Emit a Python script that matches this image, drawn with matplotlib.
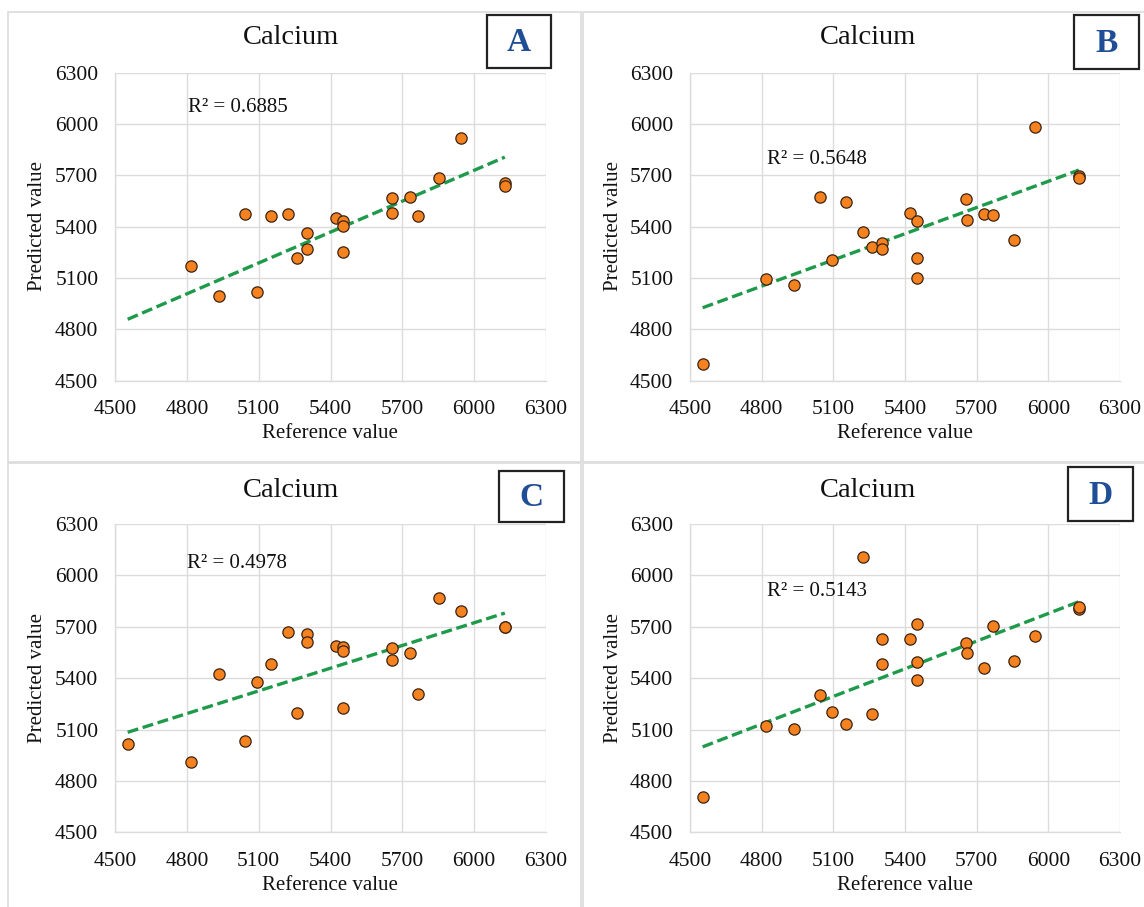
import matplotlib
matplotlib.use("Agg")
import matplotlib.pyplot as plt
from matplotlib.patches import Rectangle
import numpy as np

plt.rcParams['font.family'] = ['Liberation Serif', 'DejaVu Serif']

# ---------------- data ----------------
reference = [4553, 4817, 4935, 5044, 5094, 5151, 5223, 5260, 5303, 5303, 5423,
             5451, 5451, 5451, 5657, 5658, 5731, 5767, 5855, 5944, 6128, 6128]

pred_A = [4460, 5170, 4995, 5472, 5018, 5460, 5476, 5219, 5365, 5269, 5451,
          5431, 5406, 5252, 5567, 5478, 5575, 5464, 5686, 5918, 5655, 5638]
pred_B = [4599, 5094, 5061, 5575, 5207, 5542, 5371, 5279, 5306, 5271, 5482,
          5431, 5219, 5102, 5562, 5441, 5472, 5468, 5320, 5984, 5698, 5682]
pred_C = [5014, 4910, 5424, 5035, 5379, 5484, 5667, 5195, 5658, 5609, 5586,
          5582, 5558, 5224, 5578, 5504, 5547, 5307, 5868, 5792, 5696, 5696]
pred_D = [4704, 5121, 5105, 5300, 5202, 5132, 6105, 5193, 5630, 5481, 5629,
          5718, 5494, 5389, 5607, 5545, 5461, 5702, 5502, 5648, 5805, 5815]

panel_letters = ["A", "B", "C", "D"]
r2_labels = ["R² = 0.6885", "R² = 0.5648", "R² = 0.4978", "R² = 0.5143"]
title = "Calcium"
xlabel = "Reference value"
ylabel = "Predicted value"
ticks = [4500, 4800, 5100, 5400, 5700, 6000, 6300]

W, H = 1144, 907
fig = plt.figure(figsize=(W / 100, H / 100), dpi=100)


def fx(px):
    return px / W


def fy(py):
    return 1 - py / H


# layout in pixels: (plot left, plot right, plot top, plot bottom)
layouts = [
    dict(ax=(115, 546, 72.7, 380.7), border=(8, 581, 12, 462), title=(291, 38),
         ylab=(38, 226), xlab=(330, 434), r2=(188, 108), box=(487, 551, 15, 68)),
    dict(ax=(690, 1120, 72.7, 380.7), border=(583, 1160, 12, 462), title=(868, 38),
         ylab=(614, 226), xlab=(905, 434), r2=(767, 160), box=(1074, 1139, 15, 69)),
    dict(ax=(115, 546, 524, 832.3), border=(8, 581, 463, 920), title=(291, 490),
         ylab=(38, 678), xlab=(330, 886), r2=(187, 563), box=(499, 564, 471, 522)),
    dict(ax=(690, 1120, 524, 832.3), border=(583, 1160, 463, 920), title=(868, 490),
         ylab=(614, 678), xlab=(905, 886), r2=(767, 592), box=(1068, 1133, 467, 521)),
]

preds = [pred_A, pred_B, pred_C, pred_D]
grid_col = '#dcdcdc'

for lay, pred, letter, r2 in zip(layouts, preds, panel_letters, r2_labels):
    bl, br, bt, bb = lay['border']
    fig.patches.append(Rectangle((fx(bl), fy(bb)), fx(br - bl), (bb - bt) / H,
                                 transform=fig.transFigure, fill=False,
                                 edgecolor=grid_col, linewidth=1.2, zorder=0))
    l, r, t, b = lay['ax']
    ax = fig.add_axes([fx(l), fy(b), fx(r - l), (b - t) / H])
    ax.set_xlim(4500, 6300)
    ax.set_ylim(4500, 6300)
    ax.set_xticks(ticks)
    ax.set_yticks(ticks)
    ax.grid(True, color=grid_col, linewidth=1.0)
    ax.set_axisbelow(True)
    for s in ax.spines.values():
        s.set_color(grid_col)
        s.set_linewidth(1.0)
    ax.spines['top'].set_visible(False)
    ax.spines['right'].set_visible(False)
    ax.tick_params(axis='both', length=0, labelsize=15.5, colors='#111111')
    ax.tick_params(axis='x', pad=14)
    ax.tick_params(axis='y', pad=12)

    x = np.array(reference, dtype=float)
    y = np.array(pred, dtype=float)
    k, c = np.polyfit(x, y, 1)
    xs = np.array([x.min(), x.max()])
    ax.plot(xs, k * xs + c, color='#1e9a4a', linewidth=2.4, linestyle=(0, (3.3, 1.4)),
            zorder=2)
    ax.scatter(x, y, s=66, color='#F5821F', edgecolor='#3a2414', linewidth=0.9,
               zorder=3)

    fig.text(fx(lay['r2'][0]), fy(lay['r2'][1]), r2, fontsize=15, ha='left',
             va='center', color='#111111')
    fig.text(fx(lay['title'][0]), fy(lay['title'][1]), title, fontsize=20.5,
             ha='center', va='center', color='#111111')
    fig.text(fx(lay['xlab'][0]), fy(lay['xlab'][1]), xlabel, fontsize=15,
             ha='center', va='center', color='#111111')
    fig.text(fx(lay['ylab'][0]), fy(lay['ylab'][1]), ylabel, fontsize=15,
             ha='center', va='center', rotation=90, color='#111111')

    x0, x1, y0, y1 = lay['box']
    fig.patches.append(Rectangle((fx(x0), fy(y1)), fx(x1 - x0), (y1 - y0) / H,
                                 transform=fig.transFigure, fill=True,
                                 facecolor='white', edgecolor='#222222',
                                 linewidth=1.6, zorder=1))
    fig.text(fx((x0 + x1) / 2), fy((y0 + y1) / 2 + 1), letter, fontsize=24,
             fontweight='bold', ha='center', va='center', color='#1f4e96')

fig.savefig("out.png", dpi=100, facecolor='white')
